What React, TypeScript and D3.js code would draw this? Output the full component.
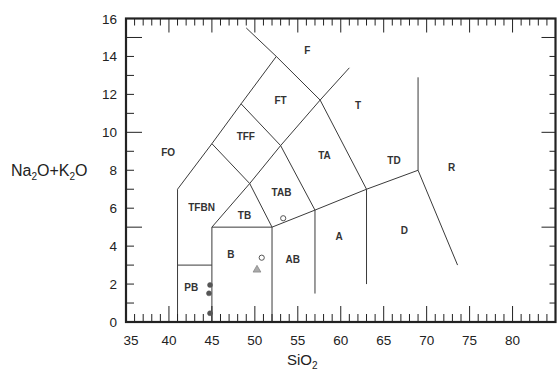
import React from 'react';
import * as d3 from 'd3';

// TAS field boundaries (SiO2, Na2O+K2O)
const boundaryLines: [number, number][][] = [
  [[41, 0], [41, 7], [45, 9.4], [48.4, 11.5], [52.5, 14]],
  [[49, 15.5], [52.5, 14], [57.6, 11.7], [61, 13.4]],
  [[41, 3], [45, 3]],
  [[45, 0], [45, 5], [52, 5], [52, 0]],
  [[45, 5], [49.4, 7.3], [52, 5]],
  [[45, 9.4], [49.4, 7.3], [53, 9.3], [57.6, 11.7]],
  [[48.4, 11.5], [53, 9.3], [57, 5.9], [57, 1.5]],
  [[52, 5], [57, 5.9], [63, 7], [69, 8], [73.6, 3]],
  [[57.6, 11.7], [63, 7], [63, 2]],
  [[69, 8], [69, 12.9]],
];

const fieldNames = ['F', 'FT', 'TFF', 'FO', 'TA', 'T', 'TD', 'R', 'TAB', 'TFBN', 'TB', 'B', 'AB', 'PB', 'A', 'D'];
const fieldX = [56.1, 53.0, 48.95, 39.9, 58.1, 62.0, 66.2, 72.9, 53.1, 43.8, 48.8, 47.2, 54.4, 42.6, 59.8, 67.4];
const fieldY = [14.3, 11.7, 9.8, 8.95, 8.8, 11.4, 8.5, 8.15, 6.85, 6.05, 5.6, 3.55, 3.3, 1.8, 4.5, 4.85];

const openCircles: [number, number][] = [[53.3, 5.47], [50.8, 3.39]];
const triangles: [number, number][] = [[50.25, 2.75]];
const filledDots: [number, number][] = [[44.78, 1.95], [44.66, 1.51], [44.78, 0.46]];

const xTickLabels = [35, 40, 45, 50, 55, 60, 65, 70, 75, 80];
const yTickLabels = [0, 2, 4, 6, 8, 10, 12, 14, 16];

const W = 557;
const H = 372;

export default function App() {
  const x = d3.scaleLinear().domain([35, 85]).range([126, 555.5]);
  const y = d3.scaleLinear().domain([0, 16]).range([322, 18.5]);
  const line = d3.line<[number, number]>().x(d => x(d[0])).y(d => y(d[1]));

  const xMinor = d3.range(35, 86, 1);
  const yMinor = d3.range(0, 17, 1);
  const font = "'Liberation Sans', Arial, sans-serif";
  const ink = '#222';

  return (
    <svg width={W} height={H} style={{ position: 'absolute', left: 0, top: 0, background: '#fff' }}>
      {/* field boundaries */}
      {boundaryLines.map((pts, i) => (
        <path key={i} d={line(pts) || ''} fill="none" stroke="#3a3a3a" strokeWidth={1} />
      ))}

      {/* ticks */}
      {xMinor.map(v => {
        const major = v % 5 === 0;
        return (
          <g key={'xt' + v}>
            <line x1={x(v)} x2={x(v)} y1={y(0)} y2={y(0) - (major ? 16 : 8)} stroke={ink} strokeWidth={1} />
            <line x1={x(v)} x2={x(v)} y1={y(16)} y2={y(16) + (major ? 14 : 7)} stroke={ink} strokeWidth={1} />
          </g>
        );
      })}
      {yMinor.map(v => {
        const major = v % 5 === 0;
        return (
          <g key={'yt' + v}>
            <line x1={x(35)} x2={x(35) + (major ? 16 : 8)} y1={y(v)} y2={y(v)} stroke={ink} strokeWidth={1} />
            <line x1={x(85)} x2={x(85) - (major ? 14 : 6)} y1={y(v)} y2={y(v)} stroke={ink} strokeWidth={1} />
          </g>
        );
      })}

      {/* frame */}
      <rect x={x(35)} y={y(16)} width={x(85) - x(35)} height={y(0) - y(16)} fill="none" stroke={ink} strokeWidth={2.2} />

      {/* tick labels */}
      {xTickLabels.map((v, i) => (
        <text key={'xl' + v} x={x(v) + (i === 0 ? 5 : 0)} y={345} textAnchor="middle" fontFamily={font} fontSize={13.5} fill={ink}>
          {v}
        </text>
      ))}
      {yTickLabels.map(v => (
        <text key={'yl' + v} x={117} y={y(v) + 5} textAnchor="end" fontFamily={font} fontSize={13.5} fill={ink}>
          {v}
        </text>
      ))}

      {/* field names */}
      {fieldNames.map((n, i) => (
        <text key={n} x={x(fieldX[i])} y={y(fieldY[i]) + 3.5} textAnchor="middle" fontFamily={font} fontWeight="bold" fontSize={10} fill="#333">
          {n}
        </text>
      ))}

      {/* samples */}
      {openCircles.map((p, i) => (
        <circle key={'oc' + i} cx={x(p[0])} cy={y(p[1])} r={2.6} fill="#fff" stroke="#555" strokeWidth={1} />
      ))}
      {triangles.map((p, i) => {
        const cx = x(p[0]);
        const cy = y(p[1]);
        return (
          <path key={'tr' + i} d={d3.symbol(d3.symbolTriangle, 26)() || ''} transform={`translate(${cx},${cy})`} fill="#aaa" stroke="#888" strokeWidth={0.8} />
        );
      })}
      {filledDots.map((p, i) => (
        <circle key={'fd' + i} cx={x(p[0])} cy={y(p[1])} r={2.5} fill="#555" stroke="#555" strokeWidth={0.5} />
      ))}

      {/* axis titles */}
      <text x={287} y={365} fontFamily={font} fontSize={15} fill={ink}>
        SiO<tspan fontSize={10} dy={4}>2</tspan>
      </text>
      <text x={11} y={176} fontFamily={font} fontSize={16} fill={ink}>
        Na<tspan fontSize={10} dy={4}>2</tspan>
        <tspan dy={-4}>O+K</tspan>
        <tspan fontSize={10} dy={4}>2</tspan>
        <tspan dy={-4}>O</tspan>
      </text>
    </svg>
  );
}
